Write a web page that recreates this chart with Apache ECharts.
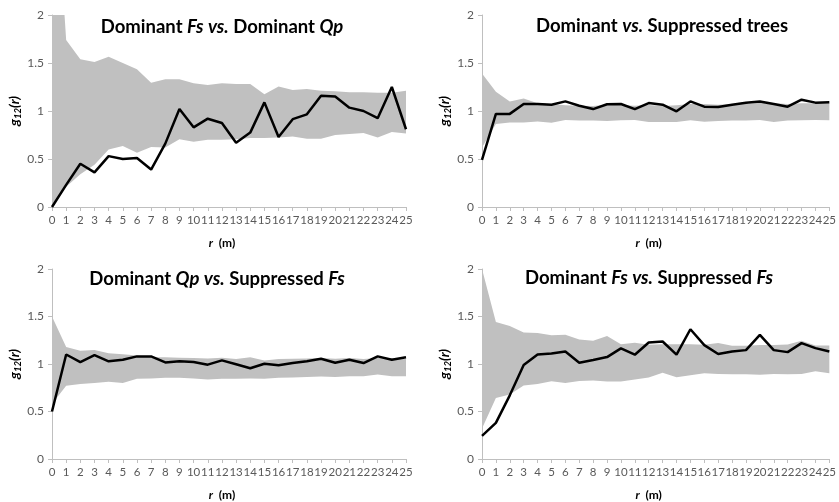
<!DOCTYPE html>
<html><head><meta charset="utf-8">
<script src="https://cdn.jsdelivr.net/npm/echarts@6/dist/echarts.min.js"></script>
<style>html,body{margin:0;padding:0;background:#fff}#c{width:839px;height:502px}</style>
</head><body><div id="c"></div>
<script>
const rLabels = ['0','1','2','3','4','5','6','7','8','9','10','11','12','13','14','15','16','17','18','19','20','21','22','23','24','25'];
const yTicks = [0, 0.5, 1, 1.5, 2];

// Panel 1: Dominant Fs vs. Dominant Qp
const p1Line  = [0, 0.23, 0.45, 0.36, 0.53, 0.50, 0.51, 0.39, 0.66, 1.02, 0.83, 0.92, 0.875, 0.67, 0.775, 1.09, 0.73, 0.915, 0.965, 1.16, 1.15, 1.035, 1.0, 0.925, 1.25, 0.81];
const p1Upper = [4.0, 1.74, 1.54, 1.51, 1.565, 1.50, 1.435, 1.295, 1.33, 1.33, 1.29, 1.27, 1.29, 1.28, 1.28, 1.175, 1.255, 1.22, 1.23, 1.21, 1.205, 1.195, 1.195, 1.19, 1.19, 1.21];
const p1Lower = [0, 0.21, 0.34, 0.44, 0.60, 0.635, 0.565, 0.625, 0.62, 0.705, 0.68, 0.70, 0.70, 0.705, 0.72, 0.72, 0.725, 0.735, 0.71, 0.71, 0.75, 0.76, 0.77, 0.725, 0.78, 0.765];

// Panel 2: Dominant vs. Suppressed trees
const p2Line  = [0.49, 0.97, 0.97, 1.073, 1.073, 1.066, 1.10, 1.055, 1.02, 1.07, 1.073, 1.02, 1.083, 1.066, 0.997, 1.10, 1.045, 1.042, 1.066, 1.087, 1.10, 1.073, 1.045, 1.118, 1.087, 1.09];
const p2Upper = [1.39, 1.20, 1.10, 1.13, 1.08, 1.073, 1.06, 1.055, 1.052, 1.066, 1.06, 1.055, 1.062, 1.052, 1.06, 1.073, 1.073, 1.066, 1.073, 1.073, 1.087, 1.08, 1.073, 1.08, 1.08, 1.08];
const p2Lower = [0.62, 0.865, 0.88, 0.88, 0.89, 0.878, 0.906, 0.90, 0.90, 0.896, 0.903, 0.906, 0.885, 0.885, 0.885, 0.903, 0.889, 0.896, 0.90, 0.90, 0.906, 0.885, 0.90, 0.903, 0.906, 0.903];

// Panel 3: Dominant Qp vs. Suppressed Fs
const p3Line  = [0.5, 1.10, 1.02, 1.093, 1.028, 1.045, 1.08, 1.08, 1.017, 1.028, 1.02, 0.993, 1.038, 0.997, 0.955, 1.003, 0.986, 1.01, 1.03, 1.055, 1.014, 1.045, 1.01, 1.08, 1.045, 1.07];
const p3Upper = [1.5, 1.18, 1.14, 1.148, 1.114, 1.103, 1.09, 1.072, 1.072, 1.066, 1.062, 1.059, 1.066, 1.052, 1.072, 1.038, 1.052, 1.055, 1.059, 1.062, 1.055, 1.062, 1.052, 1.062, 1.062, 1.052];
const p3Lower = [0.58, 0.77, 0.79, 0.80, 0.814, 0.80, 0.845, 0.848, 0.855, 0.855, 0.848, 0.838, 0.845, 0.845, 0.848, 0.845, 0.855, 0.859, 0.862, 0.869, 0.862, 0.872, 0.872, 0.89, 0.872, 0.872];

// Panel 4: Dominant Fs vs. Suppressed Fs
const p4Line  = [0.244, 0.38, 0.67, 0.99, 1.10, 1.11, 1.132, 1.014, 1.042, 1.073, 1.164, 1.098, 1.226, 1.237, 1.098, 1.366, 1.199, 1.105, 1.132, 1.146, 1.307, 1.146, 1.125, 1.22, 1.167, 1.132];
const p4Upper = [2.0, 1.443, 1.40, 1.331, 1.327, 1.303, 1.307, 1.258, 1.244, 1.296, 1.209, 1.223, 1.202, 1.209, 1.209, 1.209, 1.202, 1.22, 1.192, 1.192, 1.199, 1.199, 1.206, 1.244, 1.195, 1.195];
const p4Lower = [0.32, 0.641, 0.68, 0.774, 0.79, 0.819, 0.80, 0.822, 0.826, 0.815, 0.815, 0.836, 0.857, 0.909, 0.86, 0.882, 0.902, 0.895, 0.892, 0.892, 0.888, 0.895, 0.892, 0.895, 0.923, 0.902];

const titles = [
  '{b|Dominant }{bi|Fs}{b| }{bi|vs.}{b| Dominant }{bi|Qp}',
  '{b|Dominant }{bi|vs.}{b| Suppressed trees}',
  '{b|Dominant }{bi|Qp}{b| }{bi|vs.}{b| Suppressed }{bi|Fs}',
  '{b|Dominant }{bi|Fs}{b| }{bi|vs.}{b| Suppressed }{bi|Fs}'
];

const FONT = 'Lato';
const panels = [
  {line: p1Line, upper: p1Upper, lower: p1Lower, grid: {left: 52, top: 15, width: 354, height: 192}, tx: 222, ty: 27},
  {line: p2Line, upper: p2Upper, lower: p2Lower, grid: {left: 482, top: 15, width: 353, height: 192}, tx: 662, ty: 26},
  {line: p3Line, upper: p3Upper, lower: p3Lower, grid: {left: 52, top: 269, width: 354, height: 192}, tx: 217, ty: 279},
  {line: p4Line, upper: p4Upper, lower: p4Lower, grid: {left: 482, top: 269, width: 353, height: 192}, tx: 649, ty: 278}
];

const axisGray = '#bfbfbf';
const labelColor = '#595959';

const option = {
  animation: false,
  grid: panels.map(p => Object.assign({containLabel: false}, p.grid)),
  xAxis: panels.map((p, i) => ({
    type: 'category', gridIndex: i, data: rLabels, boundaryGap: false,
    axisLine: {show: true, lineStyle: {color: axisGray, width: 1}},
    axisTick: {show: true, length: 4, interval: 0, lineStyle: {color: axisGray}},
    axisLabel: {interval: 0, fontFamily: FONT, fontSize: 11.5, color: labelColor, margin: 7},
    splitLine: {show: false},
    name: '{i|r}{n|  (m)}', nameLocation: 'middle', nameGap: 30,
    nameTextStyle: {padding: [0, 14, 0, 0], rich: {
      i: {fontFamily: FONT, fontSize: 12, fontWeight: 'bold', fontStyle: 'italic', color: '#000'},
      n: {fontFamily: FONT, fontSize: 12, fontWeight: 'bold', color: '#000'}
    }}
  })),
  yAxis: panels.map((p, i) => ({
    type: 'value', gridIndex: i, min: yTicks[0], max: yTicks[yTicks.length - 1], interval: 0.5,
    axisLine: {show: true, lineStyle: {color: axisGray, width: 1}},
    axisTick: {show: true, length: 4, lineStyle: {color: axisGray}},
    axisLabel: {fontFamily: FONT, fontSize: 12, color: labelColor, margin: 8},
    splitLine: {show: false},
    name: '{g|g}{s|12}{g|(r)}', nameLocation: 'middle', nameGap: 26,
    nameTextStyle: {rich: {
      g: {fontFamily: FONT, fontSize: 14, fontWeight: 'bold', fontStyle: 'italic', color: '#000', lineHeight: 17},
      s: {fontFamily: FONT, fontSize: 9.5, fontWeight: 'bold', fontStyle: 'italic', color: '#000', verticalAlign: 'bottom', lineHeight: 17, padding: [7, 0, 0, 0]}
    }}
  })),
  series: [],
  graphic: panels.map((p, i) => ({
    type: 'text', x: p.tx, y: p.ty, z: 10,
    style: {
      text: titles[i], align: 'center', verticalAlign: 'middle',
      rich: {
        b: {fontFamily: FONT, fontSize: 18.5, fontWeight: 'bold', fill: '#000'},
        bi: {fontFamily: FONT, fontSize: 18.5, fontWeight: 'bold', fontStyle: 'italic', fill: '#000'}
      }
    }
  }))
};

panels.forEach((p, i) => {
  option.series.push({
    type: 'line', xAxisIndex: i, yAxisIndex: i, data: p.lower, stack: 'band' + i,
    symbol: 'none', silent: true, lineStyle: {width: 0, opacity: 0}, z: 1
  });
  option.series.push({
    type: 'line', xAxisIndex: i, yAxisIndex: i, data: p.upper.map((u, k) => +(u - p.lower[k]).toFixed(4)),
    stack: 'band' + i, symbol: 'none', silent: true,
    lineStyle: {width: 0, opacity: 0}, areaStyle: {color: '#c0c0c0', opacity: 1}, z: 1
  });
  option.series.push({
    type: 'line', xAxisIndex: i, yAxisIndex: i, data: p.line,
    symbol: 'none', lineStyle: {color: '#000', width: 2.5}, z: 5
  });
});

const chart = echarts.init(document.getElementById('c'), null, {renderer: 'canvas'});
chart.setOption(option);
</script>
</body></html>
